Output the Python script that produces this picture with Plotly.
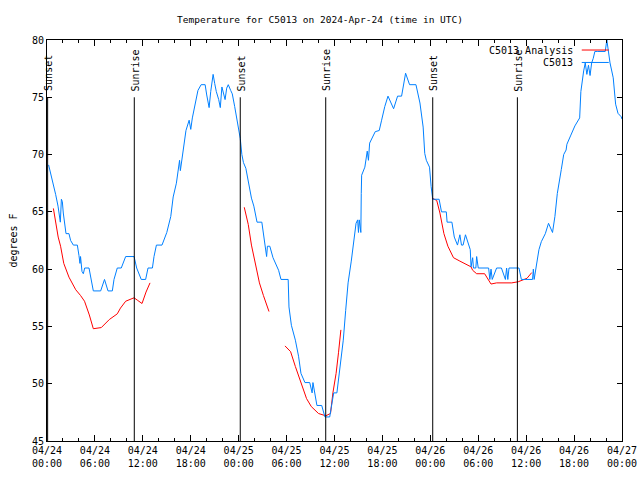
import plotly.graph_objects as go

# Hours since 2024-04-24 00:00 UTC
obs_h = [0.2, 0.67, 1.09, 1.38, 1.59, 1.67, 1.8, 1.92, 2.04, 2.38, 2.75, 2.96, 3.3, 3.8, 4.0, 4.13, 4.2, 4.38, 4.55, 4.72,
         5.26, 5.8, 6.72, 7.2, 7.64, 8.18, 8.39, 8.8, 9.3, 9.85, 10.9, 11.23, 11.8, 12.35, 12.65, 13.2, 13.4,
         13.7, 14.4, 15.0, 15.5, 15.8, 16.2, 16.6, 16.7, 16.9, 17.1, 17.4, 17.8, 18.0, 18.2, 18.5, 18.9, 19.3, 19.8,
         20.0, 20.3, 20.5, 20.8, 21.0, 21.2, 21.5, 21.7, 21.9, 22.1, 22.3, 22.5, 22.7, 23.0, 23.2, 23.5, 23.9, 24.2,
         24.4, 24.6, 24.9, 25.3, 25.6, 25.9, 26.3, 26.9, 27.2, 27.3, 27.5, 27.6, 27.9, 28.3, 29.0, 29.3, 30.2, 30.3,
         30.6, 31.1, 31.5, 31.8, 32.3, 32.9, 33.2, 33.3, 33.8, 34.4, 34.8, 35.4, 35.9, 36.3, 36.7, 37.1, 37.4, 37.7,
         38.1, 38.4, 38.7, 38.9, 39.0, 39.1, 39.3, 39.35, 39.4, 39.8, 40.1, 40.25, 40.4, 41.1, 41.6, 41.9, 42.3, 42.7,
         43.0, 43.4, 43.9, 44.4, 44.9, 45.4, 46.2, 46.7, 47.1, 47.3, 47.5, 47.9, 48.1, 48.3, 49.1, 49.4, 50.0, 50.1,
         50.7, 51.0, 51.4, 51.7, 51.9, 52.1, 52.4, 52.6, 53.0, 53.1, 53.3, 53.4, 53.7, 53.8, 54.0, 55.3, 55.45, 55.6,
         55.75, 56.3, 56.9, 57.4, 57.55, 57.7, 57.85, 59.1, 59.4, 60.8, 60.9, 61.0, 61.2, 61.6, 61.9, 62.4, 62.8,
         63.3, 63.6, 63.9, 64.4, 64.7, 65.0, 65.1, 65.6, 66.1, 66.7, 66.85, 67.2, 67.4, 67.6, 67.8, 68.0, 68.2, 68.4,
         68.6, 68.9, 69.2, 69.6, 69.9, 70.1, 70.5, 70.9, 71.2, 71.5, 71.9, 72.0]
obs_v = [69.1, 67.8, 66.5, 65.5, 64.6, 64.1, 66.1, 65.9, 64.9, 63.1, 63.1, 62.5, 62.1, 62.1, 61.2, 60.5, 61.1, 59.8, 59.6, 60.1,
         60.1, 58.1, 58.1, 59.1, 58.1, 58.1, 59.1, 60.1, 60.1, 61.1, 61.1, 60.1, 59.1, 59.1, 60.1, 60.1, 61.1,
         62.1, 62.1, 63.2, 64.6, 66.3, 67.5, 69.5, 68.6, 69.5, 70.4, 72.1, 73.0, 72.2, 73.2, 74.2, 75.6, 76.1, 76.1,
         75.2, 74.1, 75.5, 77.0, 76.2, 75.5, 74.8, 74.1, 75.9, 75.3, 74.8, 75.8, 76.1, 75.6, 75.3, 74.2, 72.5, 71.4,
         70.0, 69.3, 68.8, 67.1, 66.2, 65.5, 64.1, 64.1, 62.6, 62.1, 61.1, 62.0, 62.0, 61.0, 59.9, 59.1, 59.1, 56.7,
         55.1, 53.8, 52.4, 50.9, 50.1, 50.1, 49.2, 50.1, 48.1, 48.1, 47.1, 47.1, 49.2, 49.2, 51.5, 53.8, 56.4, 58.8,
         60.7, 62.5, 64.0, 64.3, 63.2, 64.3, 63.2, 66.6, 68.2, 68.9, 70.3, 69.5, 71.0, 72.0, 72.1, 73.0, 74.2, 75.1,
         74.6, 74.0, 75.1, 75.1, 77.1, 76.1, 76.1, 74.5, 72.4, 70.1, 69.5, 68.9, 67.2, 66.1, 66.1, 65.0, 65.0, 64.1,
         64.1, 62.8, 62.1, 63.0, 62.1, 62.1, 63.0, 62.5, 61.7, 60.2, 61.0, 60.1, 60.1, 61.1, 60.1, 60.1, 59.1, 60.0,
         59.1, 60.1, 60.1, 59.1, 60.1, 59.1, 60.1, 60.1, 59.1, 59.1, 60.0, 59.1, 60.1, 61.7, 62.4, 63.1, 64.0,
         63.2, 64.6, 66.6, 68.7, 70.0, 70.4, 70.9, 71.7, 72.5, 73.2, 75.5, 77.3, 78.0, 77.0, 77.8, 76.9, 78.0, 78.4,
         79.0, 79.0, 79.0, 79.0, 79.0, 80.0, 78.0, 76.7, 74.4, 73.6, 73.3, 73.1]

ana_h = [0.8, 1.4, 1.7, 2.1, 2.75, 3.6, 4.2, 4.7, 5.3, 5.8, 6.8, 7.8, 8.8, 9.2, 9.85, 10.5, 10.9, 11.3, 11.9, 12.4, 12.9,
         None,
         24.7, 25.2, 25.6, 26.0, 26.6, 27.1, 27.8,
         None,
         29.8, 30.5, 31.1, 31.8, 32.5, 33.1, 34.0, 34.9, 35.5, 35.8, 36.2, 36.5, 36.8,
         None,
         48.2, 48.8, 49.2, 49.7, 50.2, 50.9, 51.7, 52.3, 53.1, 53.3, 53.8, 54.8, 55.6, 56.3, 58.2, 59.0, 60.1, 60.7]
ana_v = [65.3, 62.8, 62.0, 60.5, 59.3, 58.2, 57.7, 57.2, 56.0, 54.8, 54.9, 55.6, 56.1, 56.6, 57.2, 57.4, 57.5, 57.3, 57.0, 58.0, 58.8,
         None,
         65.4, 63.9, 62.1, 60.8, 58.8, 57.7, 56.3,
         None,
         53.3, 52.8, 51.5, 50.0, 48.7, 48.0, 47.4, 47.2, 47.4, 49.2, 50.9, 52.7, 54.7,
         None,
         66.2, 66.0, 64.9, 63.1, 62.0, 61.0, 60.7, 60.5, 60.2, 59.9, 59.6, 59.6, 58.7, 58.8, 58.8, 58.9, 59.2, 59.7]

event_h = [0.08, 10.93, 24.2, 34.9, 48.3, 58.9]
event_names = ["Sunset", "Sunrise", "Sunset", "Sunrise", "Sunset", "Sunrise"]

tick_h = [0, 6, 12, 18, 24, 30, 36, 42, 48, 54, 60, 66, 72]
tick_text = ["04/24<br>00:00", "04/24<br>06:00", "04/24<br>12:00", "04/24<br>18:00",
             "04/25<br>00:00", "04/25<br>06:00", "04/25<br>12:00", "04/25<br>18:00",
             "04/26<br>00:00", "04/26<br>06:00", "04/26<br>12:00", "04/26<br>18:00",
             "04/27<br>00:00"]
y_ticks = [45, 50, 55, 60, 65, 70, 75, 80]

FONT = "DejaVu Sans Mono"
BLUE = "rgb(0,128,255)"
RED = "rgb(255,0,0)"

fig = go.Figure()
fig.add_trace(go.Scatter(x=ana_h, y=ana_v, mode="lines", line=dict(color=RED, width=1),
                         connectgaps=False, name="C5013 Analysis", showlegend=False))
fig.add_trace(go.Scatter(x=obs_h, y=obs_v, mode="lines", line=dict(color=BLUE, width=1),
                         name="C5013", showlegend=False))

for h, name in zip(event_h, event_names):
    fig.add_shape(type="line", xref="x", yref="y", x0=h, x1=h, y0=45, y1=75,
                  line=dict(color="black", width=1))
    fig.add_annotation(x=h, y=75, xref="x", yref="y", text=name, textangle=-90,
                       showarrow=False, xanchor="center", yanchor="bottom", yshift=4, xshift=1,
                       font=dict(family=FONT, size=10, color="black"))

# legend (gnuplot style: text on the left, sample on the right)
legend_items = [("C5013 Analysis", RED), ("C5013", BLUE)]
for i, (label, col) in enumerate(legend_items):
    yy = 0.975 - i * 0.031
    fig.add_annotation(x=0.918, y=yy, xref="paper", yref="paper", text=label, showarrow=False,
                       xanchor="right", yanchor="middle", font=dict(family=FONT, size=10, color="black"))
    fig.add_shape(type="line", xref="paper", yref="paper", x0=0.930, x1=0.977, y0=yy, y1=yy,
                  line=dict(color=col, width=1))

fig.update_layout(
    width=640, height=480,
    margin=dict(l=47, r=18, t=40, b=39, autoexpand=False),
    paper_bgcolor="white", plot_bgcolor="white",
    font=dict(family=FONT, size=10, color="black"),
    title=dict(text="Temperature for C5013 on 2024-Apr-24 (time in UTC)", x=0.5, xanchor="center",
               xref="container", yref="container", automargin=False,
               y=0.958, yanchor="middle", font=dict(family=FONT, size=9.5, color="black")),
)
fig.update_xaxes(range=[0, 72], tickvals=tick_h, ticktext=tick_text, ticks="inside", ticklen=6,
                 tickcolor="black", showgrid=False, zeroline=False, showline=True, linecolor="black",
                 linewidth=1, mirror="allticks", automargin=False,
                 minor=dict(dtick=2, tick0=0, ticks="inside", ticklen=3, tickcolor="black", showgrid=False),
                 tickfont=dict(family=FONT, size=10))
fig.update_yaxes(range=[45, 80], tickvals=y_ticks, ticks="inside", ticklen=5, tickcolor="black",
                 showgrid=False, zeroline=False, showline=True, linecolor="black", linewidth=1,
                 mirror="allticks", automargin=False,
                 title=dict(text="degrees F", standoff=12, font=dict(family=FONT, size=10)),
                 tickfont=dict(family=FONT, size=10))

fig.write_html("out.html", config={"displayModeBar": False},
               post_script="document.body.style.margin='0px';")
